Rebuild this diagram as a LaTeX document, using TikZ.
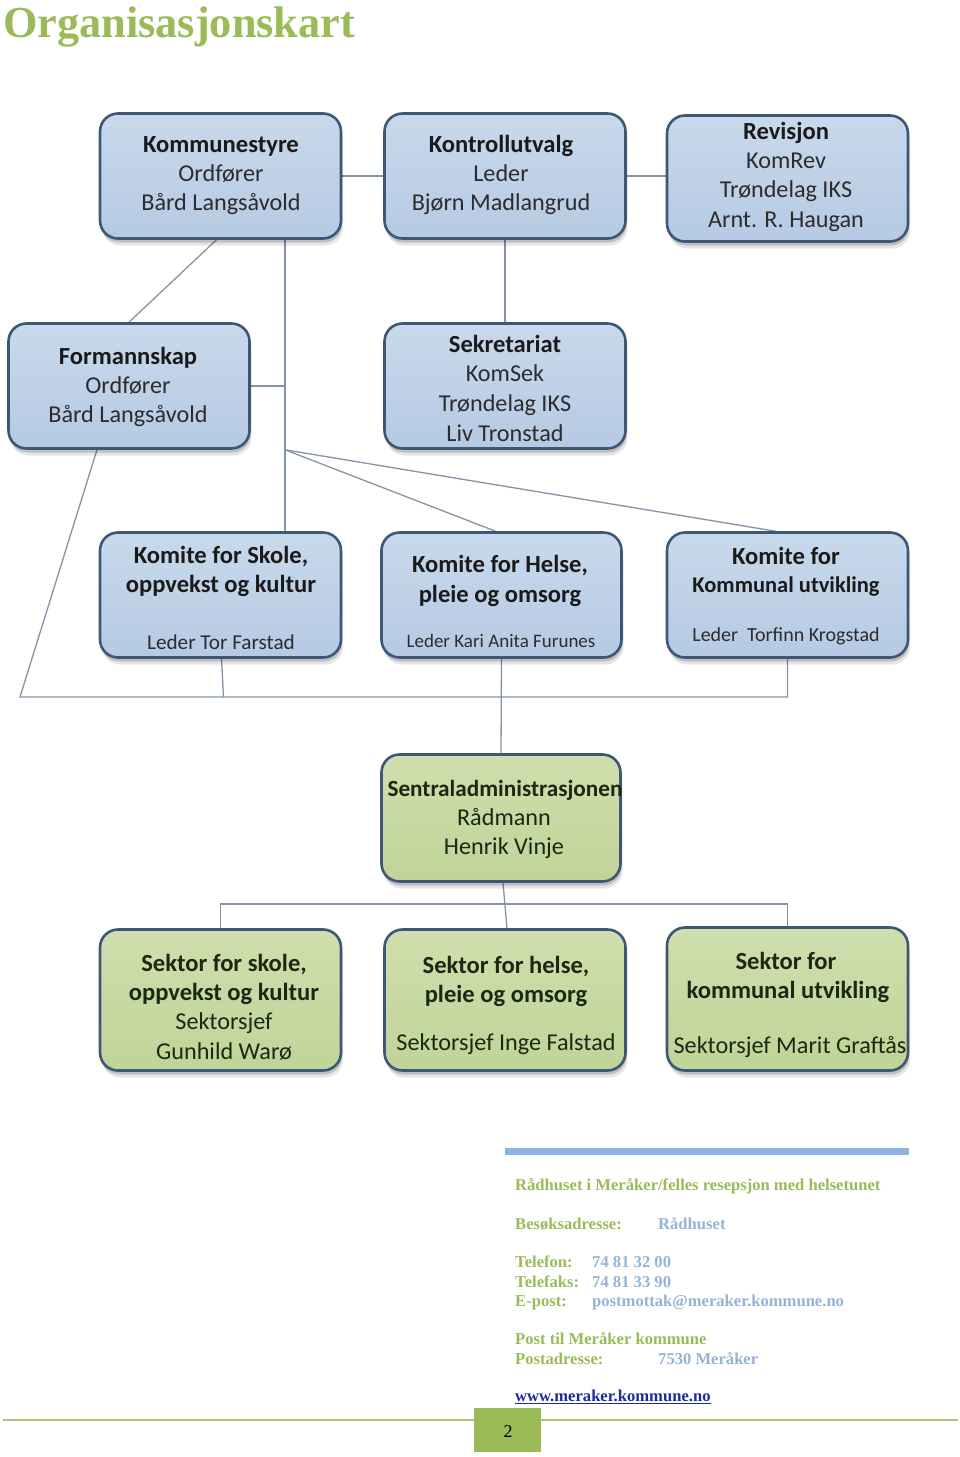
\documentclass[tikz,border=0pt]{standalone}
\usepackage{fontspec}
\setmainfont{Liberation Serif}
\newfontfamily\calfont{Carlito}
\usetikzlibrary{shadows,calc}
\definecolor{boxblue}{HTML}{B5CAE3}
\definecolor{boxblueTop}{HTML}{C9D9EC}
\definecolor{boxgreen}{HTML}{C0D497}
\definecolor{boxgreenTop}{HTML}{CFDFAE}
\definecolor{boxborder}{HTML}{3D5877}
\definecolor{connc}{HTML}{8494A8}
\definecolor{titlegreen}{HTML}{9BBB59}
\definecolor{infoblue}{HTML}{95B3D7}
\definecolor{barblue}{HTML}{8DB3E2}
\definecolor{linkblue}{HTML}{1F2B9C}
\definecolor{txtb}{HTML}{1A1A1A}
\definecolor{txtn}{HTML}{2C2C2C}
\definecolor{txtg}{HTML}{1E2614}
\pgfdeclarelayer{bg}
\pgfsetlayers{bg,main}
\tikzset{
  orgbox/.style={draw=boxborder, line width=2.6pt, rounded corners=18pt,
    minimum width=241pt, minimum height=125pt, inner sep=0pt,
    drop shadow={shadow xshift=2pt,shadow yshift=-7pt,opacity=0.10,fill=black},
    drop shadow={shadow xshift=1pt,shadow yshift=-4pt,opacity=0.16,fill=black}},
  bluebox/.style={orgbox, top color=boxblueTop, bottom color=boxblue},
  greenbox/.style={orgbox, top color=boxgreenTop, bottom color=boxgreen},
  bt/.style={font=\calfont\bfseries\fontsize{24.6}{29}\selectfont, text=txtb, anchor=base, inner sep=0pt},
  nt/.style={font=\calfont\fontsize{24.2}{29}\selectfont, text=txtn, anchor=base, inner sep=0pt},
  conn/.style={draw=connc, line width=1.3pt},
  ftg/.style={font=\bfseries\fontsize{16.6}{19}\selectfont, text=titlegreen, anchor=base west, inner sep=0pt},
  ftb/.style={font=\bfseries\fontsize{16.6}{19}\selectfont, text=infoblue, anchor=base west, inner sep=0pt}
}
\begin{document}
\begin{tikzpicture}[x=1pt,y=-1pt]
\begin{pgfonlayer}{bg}
\fill[white] (0,0) rectangle (960,1457);
\end{pgfonlayer}
\useasboundingbox (0,0) rectangle (960,1457);

% title
\node[font=\bfseries\fontsize{44.3}{50}\selectfont, text=titlegreen, anchor=base west, inner sep=0pt] (title) at (3,37) {Organisasjonskart};

% boxes
\node[bluebox] (ks)  at (220.5,176) {};
\node[bluebox] (ku)  at (505,176) {};
\node[bluebox, minimum height=126pt] (rev) at (787.5,178.5) {};
\node[bluebox] (fm)  at (129,386) {};
\node[bluebox] (sek) at (505,386) {};
\node[bluebox] (k1)  at (220.5,595) {};
\node[bluebox, minimum width=240pt] (k2)  at (501.5,595) {};
\node[bluebox] (k3)  at (787.5,595) {};
\node[greenbox, minimum width=239pt, minimum height=127pt] (sa) at (501,818) {};
\node[greenbox, minimum height=141pt] (s1) at (220.5,1000) {};
\node[greenbox, minimum height=141pt] (s2) at (505,1000) {};
\node[greenbox, minimum height=143pt] (s3) at (787.5,999) {};

% texts
\node[bt] (ks1) at (221,152) {Kommunestyre};
\node[nt] (ks2) at (221,181) {Ordfører};
\node[nt] (ks3) at (221,210) {Bård Langsåvold};

\node[bt] (ku1) at (501,152) {Kontrollutvalg};
\node[nt] (ku2) at (501,181) {Leder};
\node[nt] (ku3) at (501,210) {Bjørn Madlangrud};

\node[bt] (rv1) at (786,139) {Revisjon};
\node[nt] (rv2) at (786,168) {KomRev};
\node[nt] (rv3) at (786,197) {Trøndelag IKS};
\node[nt] (rv4) at (786,227) {Arnt. R. Haugan};

\node[bt] (fm1) at (128,364) {Formannskap};
\node[nt] (fm2) at (128,393) {Ordfører};
\node[nt] (fm3) at (128,422) {Bård Langsåvold};

\node[bt] (se1) at (505,352) {Sekretariat};
\node[nt] (se2) at (505,381) {KomSek};
\node[nt] (se3) at (505,411) {Trøndelag IKS};
\node[nt] (se4) at (505,441) {Liv Tronstad};

\node[bt] (k1a) at (221,563) {Komite for Skole,};
\node[bt] (k1b) at (221,592) {oppvekst og kultur};
\node[nt, font=\calfont\fontsize{21.2}{25}\selectfont] (k1c) at (221,649) {Leder Tor Farstad};

\node[bt] (k2a) at (500,572) {Komite for Helse,};
\node[bt] (k2b) at (500,602) {pleie og omsorg};
\node[nt, font=\calfont\fontsize{19}{23}\selectfont] (k2c) at (501,647) {Leder Kari Anita Furunes};

\node[bt] (k3a) at (786,564) {Komite for};
\node[bt, font=\calfont\bfseries\fontsize{22.5}{27}\selectfont] (k3b) at (786,592) {Kommunal utvikling};
\node[nt, font=\calfont\fontsize{20}{24}\selectfont] (k3c) at (786,641) {Leder\ \ Torfinn Krogstad};

\node[bt, text=txtg, font=\calfont\bfseries\fontsize{23.2}{28}\selectfont] (sa1) at (505,796) {Sentraladministrasjonen};
\node[nt, text=txtg] (sa2) at (504,825) {Rådmann};
\node[nt, text=txtg] (sa3) at (504,854) {Henrik Vinje};

\node[bt, text=txtg] (s1a) at (224,971) {Sektor for skole,};
\node[bt, text=txtg] (s1b) at (224,1000) {oppvekst og kultur};
\node[nt, text=txtg] (s1c) at (224,1029) {Sektorsjef};
\node[nt, text=txtg] (s1d) at (224,1059) {Gunhild Warø};

\node[bt, text=txtg] (s2a) at (506,973) {Sektor for helse,};
\node[bt, text=txtg] (s2b) at (506,1002) {pleie og omsorg};
\node[nt, text=txtg] (s2c) at (506,1050) {Sektorsjef Inge Falstad};

\node[bt, text=txtg] (s3a) at (786,969) {Sektor for};
\node[bt, text=txtg] (s3b) at (788,998) {kommunal utvikling};
\node[nt, text=txtg] (s3c) at (790,1053) {Sektorsjef Marit Graftås};

% connector helpers
\coordinate (v) at (285,0);
\coordinate (h1) at (20,697);
\coordinate (h2) at (222,904);

\begin{pgfonlayer}{bg}
\draw[conn] (ks.east) -- (ku.west);
\draw[conn] (ku.east) -- (ku.east -| rev.west);
\draw[conn] ([xshift=-4pt]ks.south) -- (fm.north);
\draw[conn] (ks.south -| v) -- (k1.north -| v);
\draw[conn] (fm.east) -- (fm.east -| v);
\draw[conn] (ku.south) -- (sek.north);
\draw[conn] (sek.south -| v) -- ([xshift=-6pt]k2.north);
\draw[conn] (sek.south -| v) -- ([xshift=-12pt]k3.north);
\draw[conn] ([xshift=-32pt]fm.south) -- (h1) -- (h1 -| k3.south) -- (k3.south);
\draw[conn] ([xshift=1pt]k1.south) -- ([xshift=3pt]k1.south |- h1);
\draw[conn] (k2.south) -- (sa.north);
\draw[conn] ([xshift=2pt]sa.south) -- ([xshift=2pt]s2.north);
\draw[conn] (s1.north) -- (s1.north |- h2) -- (s3.north |- h2) -- (s3.north);
\end{pgfonlayer}

% footer
\fill[barblue] (505,1148) rectangle (909,1155);
\node[ftg] (f1) at (515,1190) {Rådhuset i Meråker/felles resepsjon med helsetunet};
\node[ftg] (f2) at (515,1229) {Besøksadresse:};
\node[ftb] (f2b) at (658,1229) {Rådhuset};
\node[ftg] (f3) at (515,1267) {Telefon:};
\node[ftb] (f3b) at (592,1267) {74 81 32 00};
\node[ftg] (f4) at (515,1287) {Telefaks:};
\node[ftb] (f4b) at (592,1287) {74 81 33 90};
\node[ftg] (f5) at (515,1306) {E-post:};
\node[ftb] (f5b) at (592,1306) {postmottak@meraker.kommune.no};
\node[ftg] (f6) at (515,1344) {Post til Meråker kommune};
\node[ftg] (f7) at (515,1364) {Postadresse:};
\node[ftb] (f7b) at (658,1364) {7530 Meråker};
\node[ftg, text=linkblue] (f8) at (515,1401) {www.meraker.kommune.no};
\draw[linkblue, line width=1pt] ([yshift=-2.5pt]f8.base west) -- ([yshift=-2.5pt]f8.base east);

\draw[titlegreen!85!white, line width=2.8pt] (3,1420) -- (958,1420);
\fill[titlegreen] (474,1408) rectangle (541,1452);
\node[font=\fontsize{18}{20}\selectfont, text=black, inner sep=0pt] (pg) at (508,1432) {2};
\end{tikzpicture}
\end{document}
